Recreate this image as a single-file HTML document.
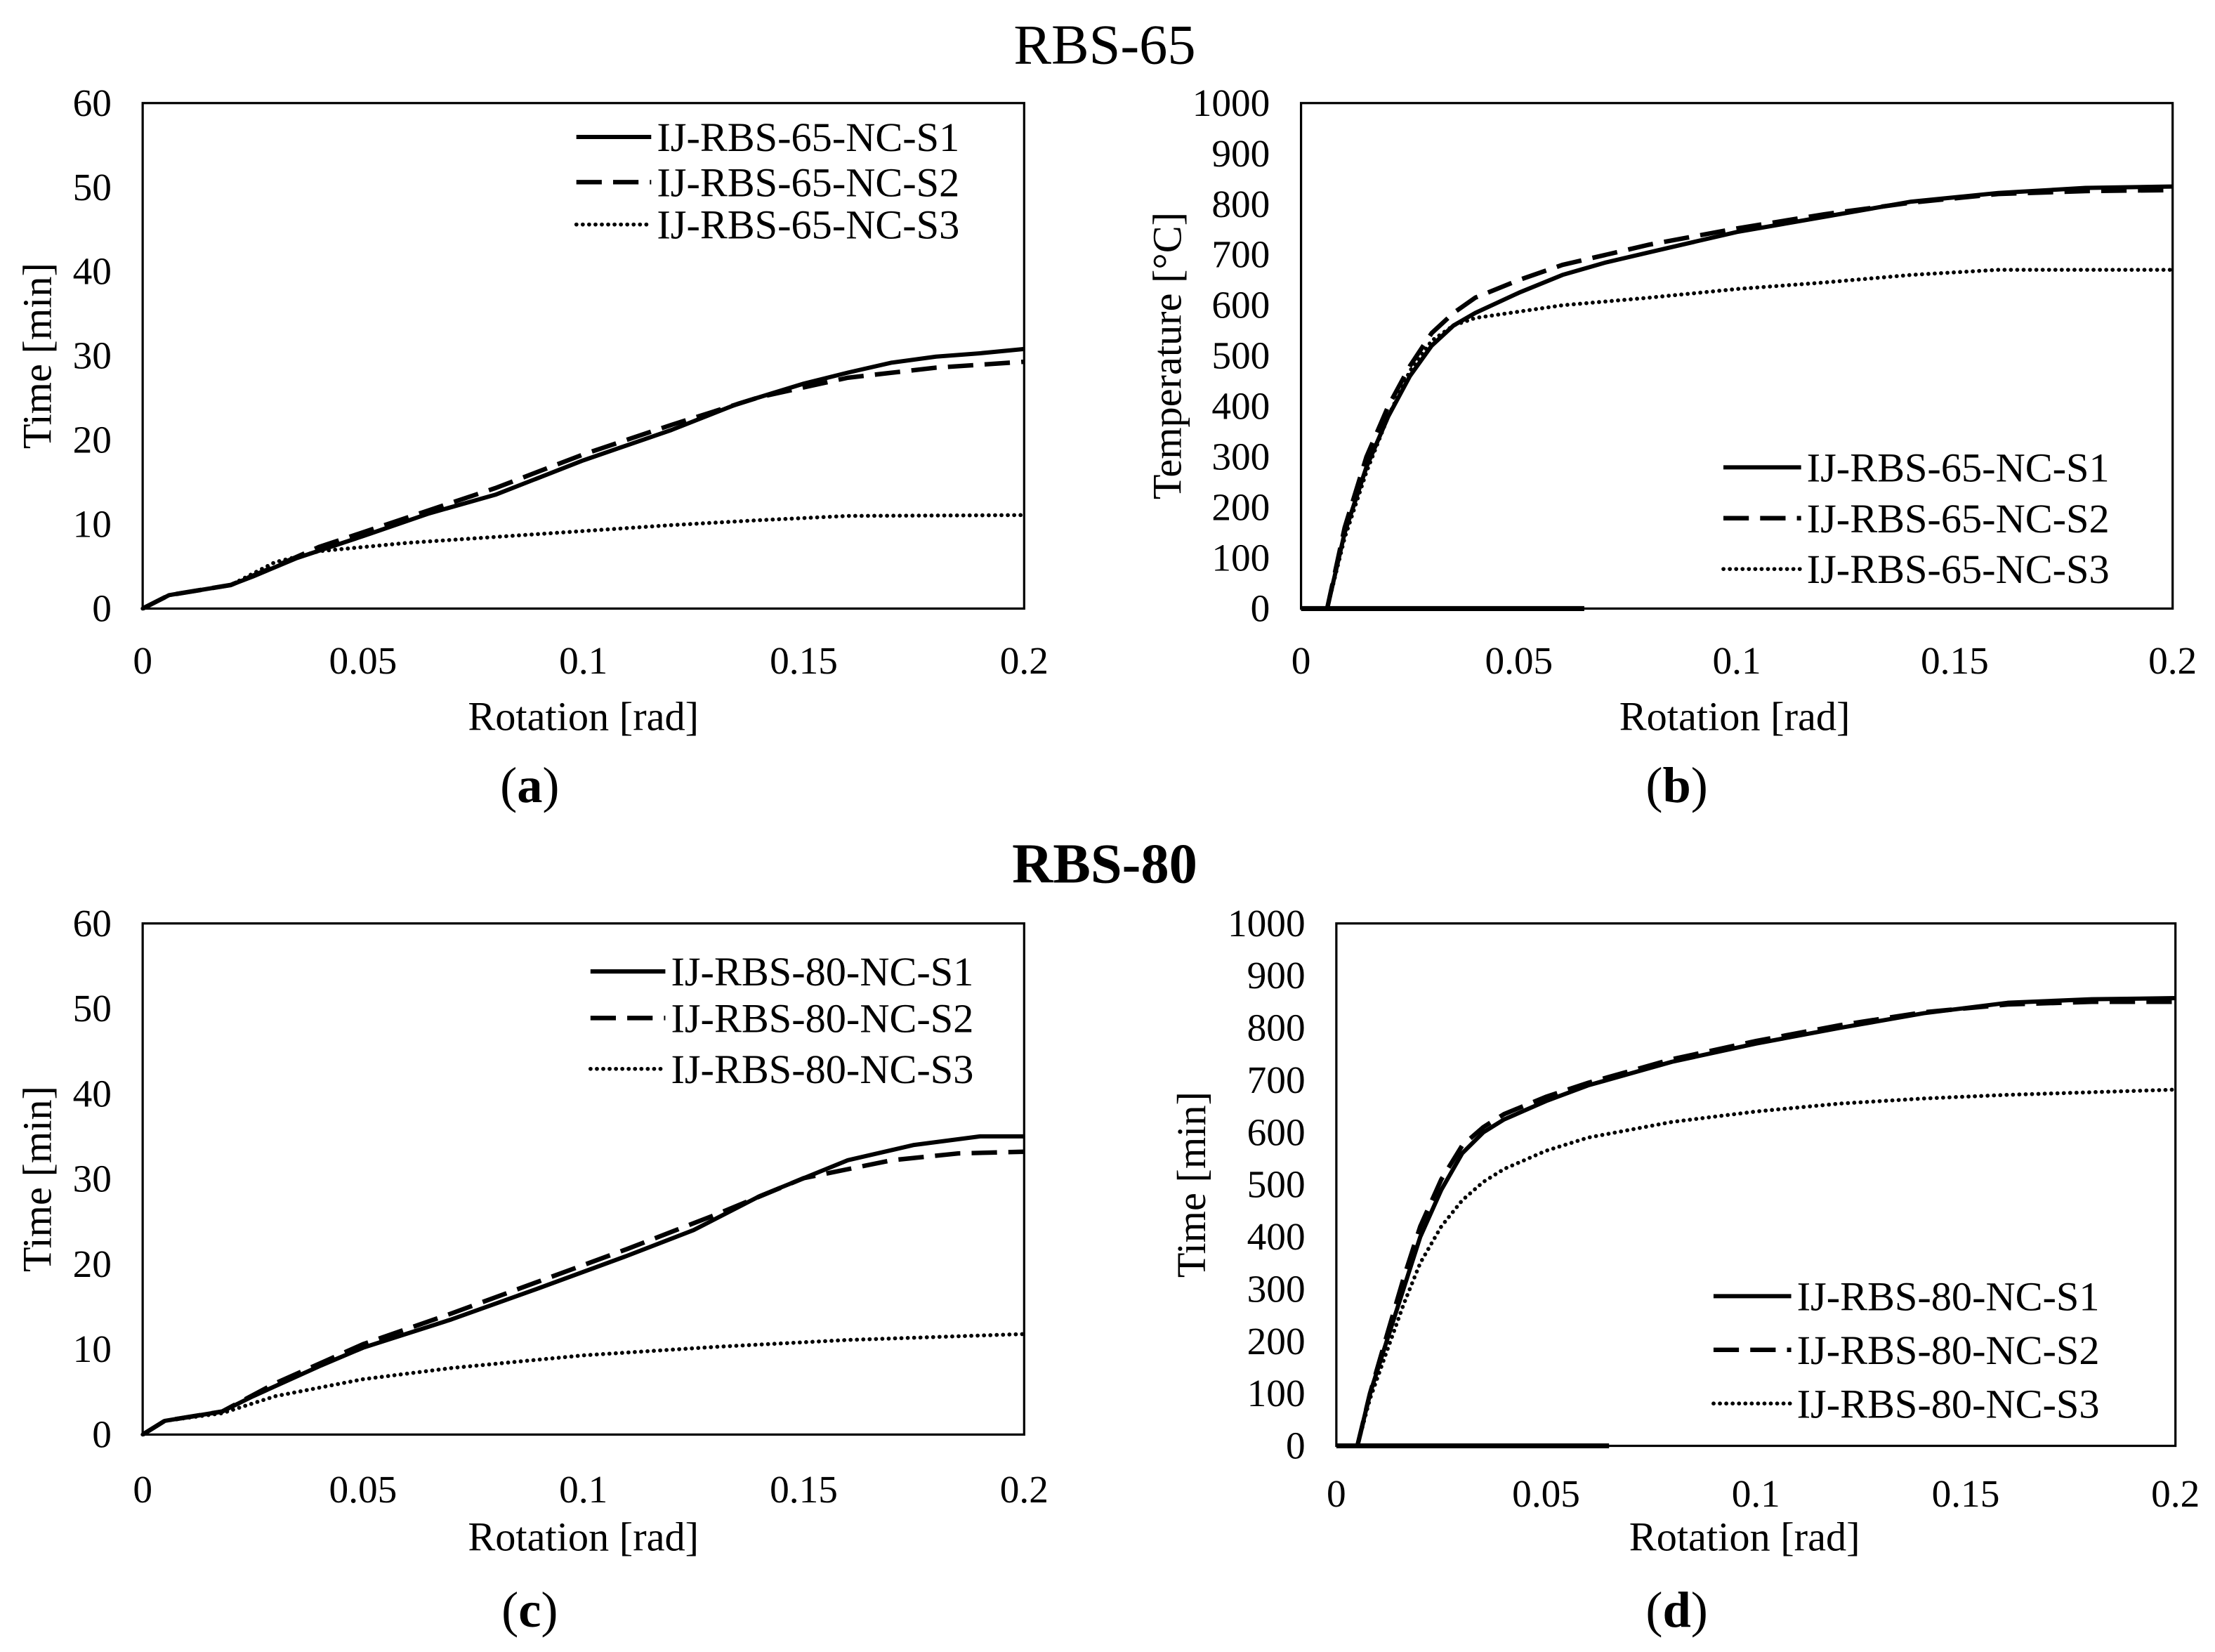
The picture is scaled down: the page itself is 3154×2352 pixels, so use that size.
<!DOCTYPE html>
<html><head><meta charset="utf-8"><style>
html,body{margin:0;padding:0;background:#fff;}
svg{display:block;}
text{font-family:"Liberation Serif",serif;fill:#000;}
</style></head><body>
<svg id="fig" width="3154" height="2352" viewBox="0 0 1568 1170" preserveAspectRatio="none" xmlns="http://www.w3.org/2000/svg">
<text x="782" y="45" font-size="40" text-anchor="middle">RBS-65</text>
<text x="782" y="625" font-size="40" font-weight="bold" text-anchor="middle">RBS-80</text>
</svg>
<script>
const xTicks=[0,0.05,0.1,0.15,0.2];
const xTickLabels=["0","0.05","0.1","0.15","0.2"];
const timeTicks=[0,10,20,30,40,50,60];
const tempTicks=[0,100,200,300,400,500,600,700,800,900,1000];
const aS1x=[0,0.006,0.02,0.025,0.035,0.05,0.065,0.08,0.1,0.12,0.135,0.15,0.16,0.17,0.18,0.19,0.2];
const aS1y=[0,1.6,2.8,3.8,6,8.6,11.3,13.5,17.6,21.2,24.3,26.7,28,29.2,29.9,30.3,30.8];
const aS2x=[0,0.006,0.02,0.03,0.04,0.06,0.08,0.1,0.12,0.14,0.16,0.18,0.2];
const aS2y=[0,1.6,2.8,5,7.3,10.8,14.3,18.3,21.8,25.1,27.4,28.6,29.3];
const aS3x=[0,0.006,0.02,0.03,0.04,0.06,0.08,0.1,0.12,0.14,0.16,0.2];
const aS3y=[0,1.6,2.8,5.5,6.8,7.8,8.5,9.2,9.9,10.5,11.0,11.1];
const bS1x=[0.006,0.01,0.015,0.02,0.025,0.03,0.035,0.04,0.05,0.06,0.07,0.08,0.1,0.12,0.14,0.16,0.18,0.2];
const bS1y=[0,150,280,380,460,520,560,585,625,660,685,705,745,775,805,822,832,835];
const bS2x=[0.006,0.01,0.015,0.02,0.025,0.03,0.035,0.04,0.05,0.06,0.08,0.1,0.12,0.14,0.16,0.18,0.2];
const bS2y=[0,160,300,400,480,545,585,615,650,680,720,752,780,803,820,826,828];
const bS3x=[0.006,0.01,0.015,0.02,0.025,0.03,0.035,0.04,0.06,0.08,0.1,0.12,0.14,0.16,0.2];
const bS3y=[0,140,270,380,470,530,560,575,600,615,632,645,660,670,670];
const cS1x=[0,0.005,0.018,0.025,0.04,0.05,0.07,0.09,0.11,0.125,0.14,0.16,0.175,0.19,0.2];
const cS1y=[0,1.6,2.7,4.5,8,10.2,13.5,17.2,21,24,28,32.2,34,35,35];
const cS2x=[0,0.005,0.018,0.03,0.05,0.07,0.09,0.11,0.13,0.15,0.17,0.185,0.2];
const cS2y=[0,1.6,2.7,6,10.6,14.2,18,21.8,25.8,30.1,32.2,33,33.2];
const cS3x=[0,0.005,0.018,0.03,0.05,0.07,0.1,0.13,0.16,0.2];
const cS3y=[0,1.6,2.5,4.5,6.5,7.8,9.3,10.3,11.1,11.8];
const dS1x=[0.005,0.008,0.012,0.016,0.02,0.025,0.03,0.035,0.04,0.05,0.06,0.08,0.1,0.12,0.14,0.16,0.18,0.2];
const dS1y=[0,100,200,300,400,490,560,600,625,660,690,735,770,800,828,848,855,857];
const dS2x=[0.005,0.008,0.012,0.016,0.02,0.025,0.03,0.035,0.04,0.05,0.06,0.08,0.1,0.12,0.14,0.16,0.18,0.2];
const dS2y=[0,100,210,320,420,510,575,610,635,668,695,740,775,805,830,845,850,850];
const dS3x=[0.005,0.008,0.012,0.016,0.02,0.025,0.03,0.035,0.04,0.05,0.06,0.08,0.1,0.12,0.14,0.16,0.2];
const dS3y=[0,90,180,270,350,420,470,505,530,565,590,620,640,655,665,672,682];
const zeroLineX=[0,0.065];
const zeroLineY=[0,0];

const NS="http://www.w3.org/2000/svg";
const svg=document.getElementById('fig');
function mk(tag,attrs,parent){const e=document.createElementNS(NS,tag);for(const k in attrs)e.setAttribute(k,attrs[k]);(parent||svg).appendChild(e);return e;}
const styles={
 solid:{stroke:'#000','stroke-width':3,fill:'none','stroke-linejoin':'round'},
 dashed:{stroke:'#000','stroke-width':3.2,fill:'none','stroke-dasharray':'18 8'},
 dotted:{stroke:'#000','stroke-width':2.8,fill:'none','stroke-dasharray':'0.1 4.4','stroke-linecap':'round'}
};
function chart(p){
 const g=mk('g',{});
 
 
 const sx=v=>p.l+(v-0)/(0.2)*(p.r-p.l);
 const sy=v=>p.b-(v/p.ymax)*(p.b-p.t);
 const f=mk('rect',{x:p.l,y:p.t,width:p.r-p.l,height:p.b-p.t,fill:'none',stroke:'#000','stroke-width':1.6},g);
 
 
 p.yt.forEach(v=>{const t=mk('text',{x:p.l-22,y:sy(v)+9,'font-size':27.5,'text-anchor':'end'},g);t.textContent=String(v);
  
  });
 xTicks.forEach((v,i)=>{const t=mk('text',{x:sx(v),y:p.xly,'font-size':27.5,'text-anchor':'middle'},g);t.textContent=xTickLabels[i];
  
  });
 const xt=mk('text',{x:p.xtx,y:p.xty,'font-size':29,'text-anchor':'middle'},g);xt.textContent='Rotation [rad]';
 
 
 const yt=mk('text',{x:0,y:0,'font-size':29,'text-anchor':'middle',transform:`translate(${p.ytx},${(p.t+p.b)/2}) rotate(-90)`},g);yt.textContent=p.ytitle;
 
 
 const cap=mk('text',{x:p.capx,y:p.capy,'font-size':36,'text-anchor':'middle'},g);
 cap.innerHTML='(<tspan font-weight="bold">'+p.cap+'</tspan>)';
 
 
 if(p.zero){const z=mk('polyline',{points:zeroLineX.map((x,i)=>sx(x)+','+sy(zeroLineY[i])).join(' '),stroke:'#000','stroke-width':3.5,fill:'none'},g);
  
  }
 p.series.forEach((s,i)=>{
  const pl=mk('polyline',Object.assign({points:s.x.map((x,j)=>sx(x).toFixed(1)+','+sy(s.y[j]).toFixed(1)).join(' ')},styles[s.st]),g);
  
  
  const ly=p.leg.y[i];
  const ll=mk('line',Object.assign({x1:p.leg.x1,x2:p.leg.x2,y1:ly,y2:ly},styles[s.st]),g);
  
  
  const lt=mk('text',{x:p.leg.x2+4,y:ly+10,'font-size':29},g);lt.textContent=s.label;
  
  
 });
}
chart({name:'chart-a',l:101,r:725,t:73,b:431,ymax:60,yt:timeTicks,xly:477,xtx:413,xty:517,ytitle:'Time [min]',ytx:36,cap:'a',capx:375,capy:568,
 leg:{x1:408,x2:461,y:[97,129,159]},
 series:[{x:aS1x,y:aS1y,st:'solid',label:'IJ-RBS-65-NC-S1'},{x:aS2x,y:aS2y,st:'dashed',label:'IJ-RBS-65-NC-S2'},{x:aS3x,y:aS3y,st:'dotted',label:'IJ-RBS-65-NC-S3'}]});
chart({name:'chart-b',l:921,r:1538,t:73,b:431,ymax:1000,yt:tempTicks,xly:477,xtx:1228,xty:517,ytitle:'Temperature [°C]',ytx:836,cap:'b',capx:1187,capy:568,zero:true,
 leg:{x1:1220,x2:1275,y:[331,367,403]},
 series:[{x:bS1x,y:bS1y,st:'solid',label:'IJ-RBS-65-NC-S1'},{x:bS2x,y:bS2y,st:'dashed',label:'IJ-RBS-65-NC-S2'},{x:bS3x,y:bS3y,st:'dotted',label:'IJ-RBS-65-NC-S3'}]});
chart({name:'chart-c',l:101,r:725,t:654,b:1016,ymax:60,yt:timeTicks,xly:1064,xtx:413,xty:1098,ytitle:'Time [min]',ytx:36,cap:'c',capx:375,capy:1152,
 leg:{x1:418,x2:471,y:[688,721,757]},
 series:[{x:cS1x,y:cS1y,st:'solid',label:'IJ-RBS-80-NC-S1'},{x:cS2x,y:cS2y,st:'dashed',label:'IJ-RBS-80-NC-S2'},{x:cS3x,y:cS3y,st:'dotted',label:'IJ-RBS-80-NC-S3'}]});
chart({name:'chart-d',l:946,r:1540,t:654,b:1024,ymax:1000,yt:tempTicks,xly:1067,xtx:1235,xty:1098,ytitle:'Time [min]',ytx:853,cap:'d',capx:1187,capy:1152,zero:true,
 leg:{x1:1213,x2:1268,y:[918,956,994]},
 series:[{x:dS1x,y:dS1y,st:'solid',label:'IJ-RBS-80-NC-S1'},{x:dS2x,y:dS2y,st:'dashed',label:'IJ-RBS-80-NC-S2'},{x:dS3x,y:dS3y,st:'dotted',label:'IJ-RBS-80-NC-S3'}]});
</script>
</body></html>
